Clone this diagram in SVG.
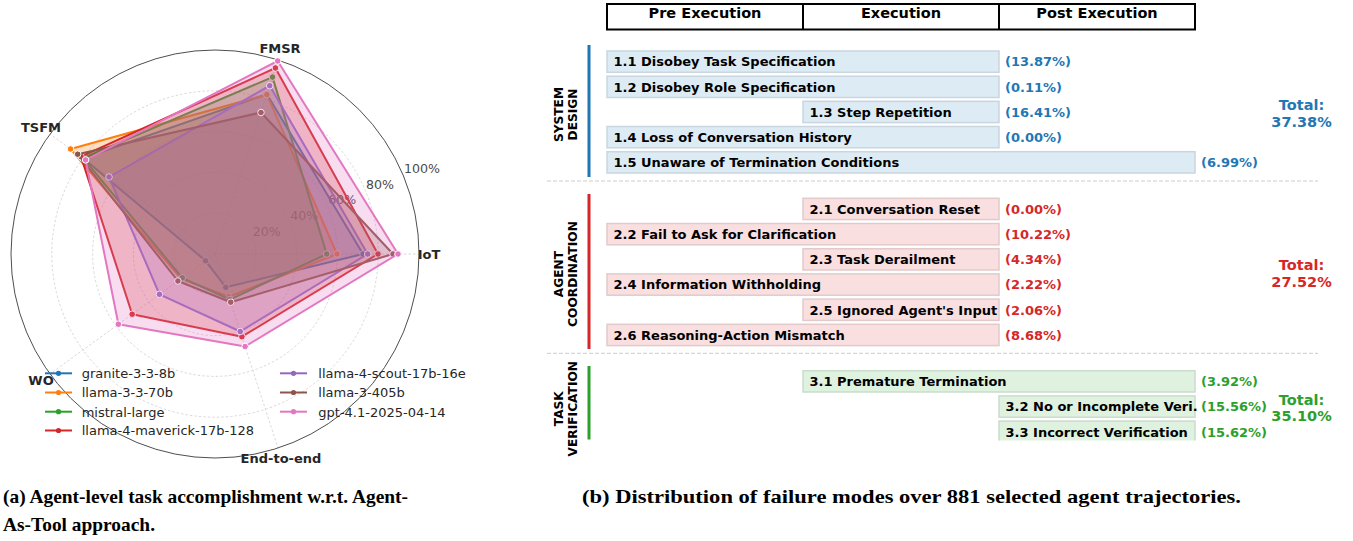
<svg xmlns="http://www.w3.org/2000/svg" width="1353" height="541" viewBox="0 0 1353 541">
<style>
.grid{fill:none;stroke:#cfcfcf;stroke-width:0.8;stroke-dasharray:2.5,2}
.ax{font-family:"DejaVu Sans",sans-serif;font-weight:bold;font-size:13px;fill:#262626;text-anchor:middle}
.tick{font-family:"DejaVu Sans",sans-serif;font-size:12.6px;fill:#4a4a4a;text-anchor:middle}
.leg{font-family:"DejaVu Sans",sans-serif;font-size:13px;fill:#262626}
.ser{fill-opacity:0.25;stroke-width:2;stroke-linejoin:round}
.mk{stroke:#fff;stroke-width:1}
.hdr{font-family:"DejaVu Sans",sans-serif;font-weight:bold;font-size:14.5px;fill:#000;text-anchor:middle}
.bt{font-family:"DejaVu Sans",sans-serif;font-weight:bold;font-size:13px;fill:#000}
.pc{font-family:"DejaVu Sans",sans-serif;font-weight:bold;font-size:13px}
.tot{font-family:"DejaVu Sans",sans-serif;font-weight:bold;font-size:14.5px;text-anchor:middle}
.cat{font-family:"DejaVu Sans",sans-serif;font-weight:bold;font-size:12.2px;fill:#000;text-anchor:middle}
.b1{fill:#ddebf4;stroke:#c9d6e0;stroke-width:1.5}
.b2{fill:#f9dfe0;stroke:#e2cacb;stroke-width:1.5}
.b3{fill:#dff1df;stroke:#cadccb;stroke-width:1.5}
.cap{font-family:"Liberation Serif",serif;font-weight:bold;font-size:19px;fill:#000}
.sep{stroke:#cccccc;stroke-width:1;stroke-dasharray:4,2}
</style>
<defs>
<clipPath id="clip3"><rect x="540" y="355" width="813" height="85.5"/></clipPath>
</defs>
<rect width="1353" height="541" fill="#fff"/>

<g id="radar">
  <g id="radar-grid">
    <circle class="grid" cx="215" cy="254" r="40.8"/>
    <circle class="grid" cx="215" cy="254" r="81.6"/>
    <circle class="grid" cx="215" cy="254" r="122.4"/>
    <circle class="grid" cx="215" cy="254" r="163.2"/>
    <line class="grid" x1="215" y1="254" x2="419" y2="254"/>
    <line class="grid" x1="215" y1="254" x2="278" y2="60"/>
    <line class="grid" x1="215" y1="254" x2="50" y2="134"/>
    <line class="grid" x1="215" y1="254" x2="50" y2="374"/>
    <line class="grid" x1="215" y1="254" x2="278" y2="448"/>
    <circle cx="215" cy="254" r="204" fill="none" stroke="#3a3a3a" stroke-width="0.9"/>
  </g>
  <g id="radar-ticks">
    <text class="tick" x="266.7" y="236.2">20%</text>
    <text class="tick" x="304.3" y="219.5">40%</text>
    <text class="tick" x="342.3" y="203.8">60%</text>
    <text class="tick" x="380" y="188.5">80%</text>
    <text class="tick" x="422" y="172.8">100%</text>
  </g>
  <g id="series-granite" fill="#1f77b4" stroke="#1f77b4">
    <polygon class="ser" points="363,254 266.9,94.2 83.1,158.2 205.6,260.8 225.8,287.3"/>
    <g class="mk"><circle cx="363" cy="254" r="3.3"/><circle cx="266.9" cy="94.2" r="3.3"/><circle cx="83.1" cy="158.2" r="3.3"/><circle cx="205.6" cy="260.8" r="3.3"/><circle cx="225.8" cy="287.3" r="3.3"/></g>
  </g>
  <g id="series-llama33" fill="#ff7f0e" stroke="#ff7f0e">
    <polygon class="ser" points="337,254 266.8,94.6 70.6,149 181,278.7 228.9,296.8"/>
    <g class="mk"><circle cx="337" cy="254" r="3.3"/><circle cx="266.8" cy="94.6" r="3.3"/><circle cx="70.6" cy="149" r="3.3"/><circle cx="181" cy="278.7" r="3.3"/><circle cx="228.9" cy="296.8" r="3.3"/></g>
  </g>
  <g id="series-mistral" fill="#2ca02c" stroke="#2ca02c">
    <polygon class="ser" points="326.7,254 272.5,77.1 83.1,158.2 182.3,277.8 229.8,299.6"/>
    <g class="mk"><circle cx="326.7" cy="254" r="3.3"/><circle cx="272.5" cy="77.1" r="3.3"/><circle cx="83.1" cy="158.2" r="3.3"/><circle cx="182.3" cy="277.8" r="3.3"/><circle cx="229.8" cy="299.6" r="3.3"/></g>
  </g>
  <g id="series-maverick" fill="#d62728" stroke="#d62728">
    <polygon class="ser" points="378,254 275.4,68 81,156.6 132.2,314.2 241.9,336.7"/>
    <g class="mk"><circle cx="378" cy="254" r="3.3"/><circle cx="275.4" cy="68" r="3.3"/><circle cx="81" cy="156.6" r="3.3"/><circle cx="132.2" cy="314.2" r="3.3"/><circle cx="241.9" cy="336.7" r="3.3"/></g>
  </g>
  <g id="series-scout" fill="#9467bd" stroke="#9467bd">
    <polygon class="ser" points="367.7,254 269.7,85.7 109,177 159.5,294.3 240.2,331.5"/>
    <g class="mk"><circle cx="367.7" cy="254" r="3.3"/><circle cx="269.7" cy="85.7" r="3.3"/><circle cx="109" cy="177" r="3.3"/><circle cx="159.5" cy="294.3" r="3.3"/><circle cx="240.2" cy="331.5" r="3.3"/></g>
  </g>
  <g id="series-llama405" fill="#8c564b" stroke="#8c564b">
    <polygon class="ser" points="393,254 261,112.5 77.7,154.2 177.9,281 230.7,302.2"/>
    <g class="mk"><circle cx="393" cy="254" r="3.3"/><circle cx="261" cy="112.5" r="3.3"/><circle cx="77.7" cy="154.2" r="3.3"/><circle cx="177.9" cy="281" r="3.3"/><circle cx="230.7" cy="302.2" r="3.3"/></g>
  </g>
  <g id="series-gpt41" fill="#e377c2" stroke="#e377c2">
    <polygon class="ser" points="398,254 277.7,61 85.6,159.9 118.4,324.2 245.1,346.5"/>
    <g class="mk"><circle cx="398" cy="254" r="3.3"/><circle cx="277.7" cy="61" r="3.3"/><circle cx="85.6" cy="159.9" r="3.3"/><circle cx="118.4" cy="324.2" r="3.3"/><circle cx="245.1" cy="346.5" r="3.3"/></g>
  </g>
  <g id="radar-axis-labels">
    <text class="ax" x="429" y="259">IoT</text>
    <text class="ax" x="280" y="53">FMSR</text>
    <text class="ax" x="41" y="132">TSFM</text>
    <text class="ax" x="41" y="385">WO</text>
    <text class="ax" x="281" y="463">End-to-end</text>
  </g>
  <g id="legend">
    <g stroke-width="2"><line x1="45" y1="373.3" x2="72" y2="373.3" stroke="#1f77b4"/><circle cx="58.5" cy="373.3" r="2.6" fill="#1f77b4" stroke="none"/></g>
    <text class="leg" x="81.7" y="378.2">granite-3-3-8b</text>
    <g stroke-width="2"><line x1="45" y1="392.5" x2="72" y2="392.5" stroke="#ff7f0e"/><circle cx="58.5" cy="392.5" r="2.6" fill="#ff7f0e" stroke="none"/></g>
    <text class="leg" x="81.7" y="397.4">llama-3-3-70b</text>
    <g stroke-width="2"><line x1="45" y1="411.7" x2="72" y2="411.7" stroke="#2ca02c"/><circle cx="58.5" cy="411.7" r="2.6" fill="#2ca02c" stroke="none"/></g>
    <text class="leg" x="81.7" y="416.6">mistral-large</text>
    <g stroke-width="2"><line x1="45" y1="430.5" x2="72" y2="430.5" stroke="#d62728"/><circle cx="58.5" cy="430.5" r="2.6" fill="#d62728" stroke="none"/></g>
    <text class="leg" x="81.7" y="435.4">llama-4-maverick-17b-128</text>
    <g stroke-width="2"><line x1="280" y1="373.3" x2="307" y2="373.3" stroke="#9467bd"/><circle cx="293.5" cy="373.3" r="2.6" fill="#9467bd" stroke="none"/></g>
    <text class="leg" x="318.3" y="378.2">llama-4-scout-17b-16e</text>
    <g stroke-width="2"><line x1="280" y1="392.5" x2="307" y2="392.5" stroke="#8c564b"/><circle cx="293.5" cy="392.5" r="2.6" fill="#8c564b" stroke="none"/></g>
    <text class="leg" x="318.3" y="397.4">llama-3-405b</text>
    <g stroke-width="2"><line x1="280" y1="411.7" x2="307" y2="411.7" stroke="#e377c2"/><circle cx="293.5" cy="411.7" r="2.6" fill="#e377c2" stroke="none"/></g>
    <text class="leg" x="318.3" y="416.6">gpt-4.1-2025-04-14</text>
  </g>
</g>

<g id="failure-panel">
  <g id="header">
    <rect x="607" y="4" width="588" height="25.5" fill="none" stroke="#000" stroke-width="2"/>
    <line x1="803" y1="4" x2="803" y2="29.5" stroke="#000" stroke-width="2"/>
    <line x1="999" y1="4" x2="999" y2="29.5" stroke="#000" stroke-width="2"/>
    <text class="hdr" x="705" y="17.8">Pre Execution</text>
    <text class="hdr" x="901" y="17.8">Execution</text>
    <text class="hdr" x="1097" y="17.8">Post Execution</text>
  </g>
  <g id="separators">
    <line class="sep" x1="547" y1="181" x2="1318" y2="181"/>
    <line class="sep" x1="547" y1="353.3" x2="1318" y2="353.3"/>
  </g>

  <g id="cat-system-design">
    <rect x="587.5" y="45" width="3" height="132" fill="#1f77b4"/>
    <text class="cat" transform="translate(562.7,114.5) rotate(-90)">SYSTEM</text>
    <text class="cat" transform="translate(576.7,114.5) rotate(-90)">DESIGN</text>
    <text class="tot" x="1301.5" y="110.2" fill="#1f77b4">Total:</text>
    <text class="tot" x="1301.5" y="126.8" fill="#1f77b4">37.38%</text>
  </g>
  <g id="fm-1-1"><rect class="b1" x="607" y="51" width="392" height="21.3"/><text class="bt" x="613.5" y="66.4">1.1 Disobey Task Specification</text><text class="pc" x="1005" y="66.4" fill="#1f77b4">(13.87%)</text></g>
  <g id="fm-1-2"><rect class="b1" x="607" y="76.2" width="392" height="21.3"/><text class="bt" x="613.5" y="91.6">1.2 Disobey Role Specification</text><text class="pc" x="1005" y="91.6" fill="#1f77b4">(0.11%)</text></g>
  <g id="fm-1-3"><rect class="b1" x="803" y="101.3" width="196" height="21.3"/><text class="bt" x="809.5" y="116.7">1.3 Step Repetition</text><text class="pc" x="1005" y="116.7" fill="#1f77b4">(16.41%)</text></g>
  <g id="fm-1-4"><rect class="b1" x="607" y="126.5" width="392" height="21.3"/><text class="bt" x="613.5" y="141.9">1.4 Loss of Conversation History</text><text class="pc" x="1005" y="141.9" fill="#1f77b4">(0.00%)</text></g>
  <g id="fm-1-5"><rect class="b1" x="607" y="151.7" width="588" height="21.3"/><text class="bt" x="613.5" y="167.1">1.5 Unaware of Termination Conditions</text><text class="pc" x="1201" y="167.1" fill="#1f77b4">(6.99%)</text></g>

  <g id="cat-agent-coordination">
    <rect x="587.5" y="194" width="3" height="155" fill="#d62728"/>
    <text class="cat" transform="translate(562.7,274) rotate(-90)">AGENT</text>
    <text class="cat" transform="translate(576.7,274) rotate(-90)">COORDINATION</text>
    <text class="tot" x="1301.5" y="270.2" fill="#d62728">Total:</text>
    <text class="tot" x="1301.5" y="286.6" fill="#d62728">27.52%</text>
  </g>
  <g id="fm-2-1"><rect class="b2" x="803" y="198.3" width="196" height="21.3"/><text class="bt" x="809.5" y="213.7">2.1 Conversation Reset</text><text class="pc" x="1005" y="213.7" fill="#d62728">(0.00%)</text></g>
  <g id="fm-2-2"><rect class="b2" x="607" y="223.5" width="392" height="21.3"/><text class="bt" x="613.5" y="238.9">2.2 Fail to Ask for Clarification</text><text class="pc" x="1005" y="238.9" fill="#d62728">(10.22%)</text></g>
  <g id="fm-2-3"><rect class="b2" x="803" y="248.7" width="196" height="21.3"/><text class="bt" x="809.5" y="264.1">2.3 Task Derailment</text><text class="pc" x="1005" y="264.1" fill="#d62728">(4.34%)</text></g>
  <g id="fm-2-4"><rect class="b2" x="607" y="273.9" width="392" height="21.3"/><text class="bt" x="613.5" y="289.3">2.4 Information Withholding</text><text class="pc" x="1005" y="289.3" fill="#d62728">(2.22%)</text></g>
  <g id="fm-2-5"><rect class="b2" x="803" y="299.1" width="196" height="21.3"/><text class="bt" x="809.5" y="314.5">2.5 Ignored Agent's Input</text><text class="pc" x="1005" y="314.5" fill="#d62728">(2.06%)</text></g>
  <g id="fm-2-6"><rect class="b2" x="607" y="324.3" width="392" height="21.3"/><text class="bt" x="613.5" y="339.7">2.6 Reasoning-Action Mismatch</text><text class="pc" x="1005" y="339.7" fill="#d62728">(8.68%)</text></g>

  <g id="cat-task-verification">
    <rect x="587.5" y="366" width="3" height="73.5" fill="#2ca02c"/>
    <text class="cat" transform="translate(562.7,408.7) rotate(-90)">TASK</text>
    <text class="cat" transform="translate(576.7,408.7) rotate(-90)">VERIFICATION</text>
    <text class="tot" x="1301.5" y="404.8" fill="#2ca02c">Total:</text>
    <text class="tot" x="1301.5" y="421.4" fill="#2ca02c">35.10%</text>
  </g>
  <g id="fm-3-1"><rect class="b3" x="803" y="370.7" width="392" height="21.3"/><text class="bt" x="809.5" y="386.1">3.1 Premature Termination</text><text class="pc" x="1201" y="386.1" fill="#2ca02c">(3.92%)</text></g>
  <g id="fm-3-2"><rect class="b3" x="999" y="395.9" width="196" height="21.3"/><text class="bt" x="1005.5" y="411.3">3.2 No or Incomplete Veri.</text><text class="pc" x="1201" y="411.3" fill="#2ca02c">(15.56%)</text></g>
  <g id="fm-3-3"><rect class="b3" x="999" y="421.1" width="196" height="21.3" clip-path="url(#clip3)"/><text class="bt" x="1005.5" y="436.5">3.3 Incorrect Verification</text><text class="pc" x="1201" y="436.5" fill="#2ca02c">(15.62%)</text></g>
</g>

<g id="captions">
  <text class="cap" x="3" y="503" textLength="405" lengthAdjust="spacingAndGlyphs">(a) Agent-level task accomplishment w.r.t. Agent-</text>
  <text class="cap" x="3" y="530.5" textLength="152" lengthAdjust="spacingAndGlyphs">As-Tool approach.</text>
  <text class="cap" x="582" y="503" textLength="659" lengthAdjust="spacingAndGlyphs">(b) Distribution of failure modes over 881 selected agent trajectories.</text>
</g>
</svg>
